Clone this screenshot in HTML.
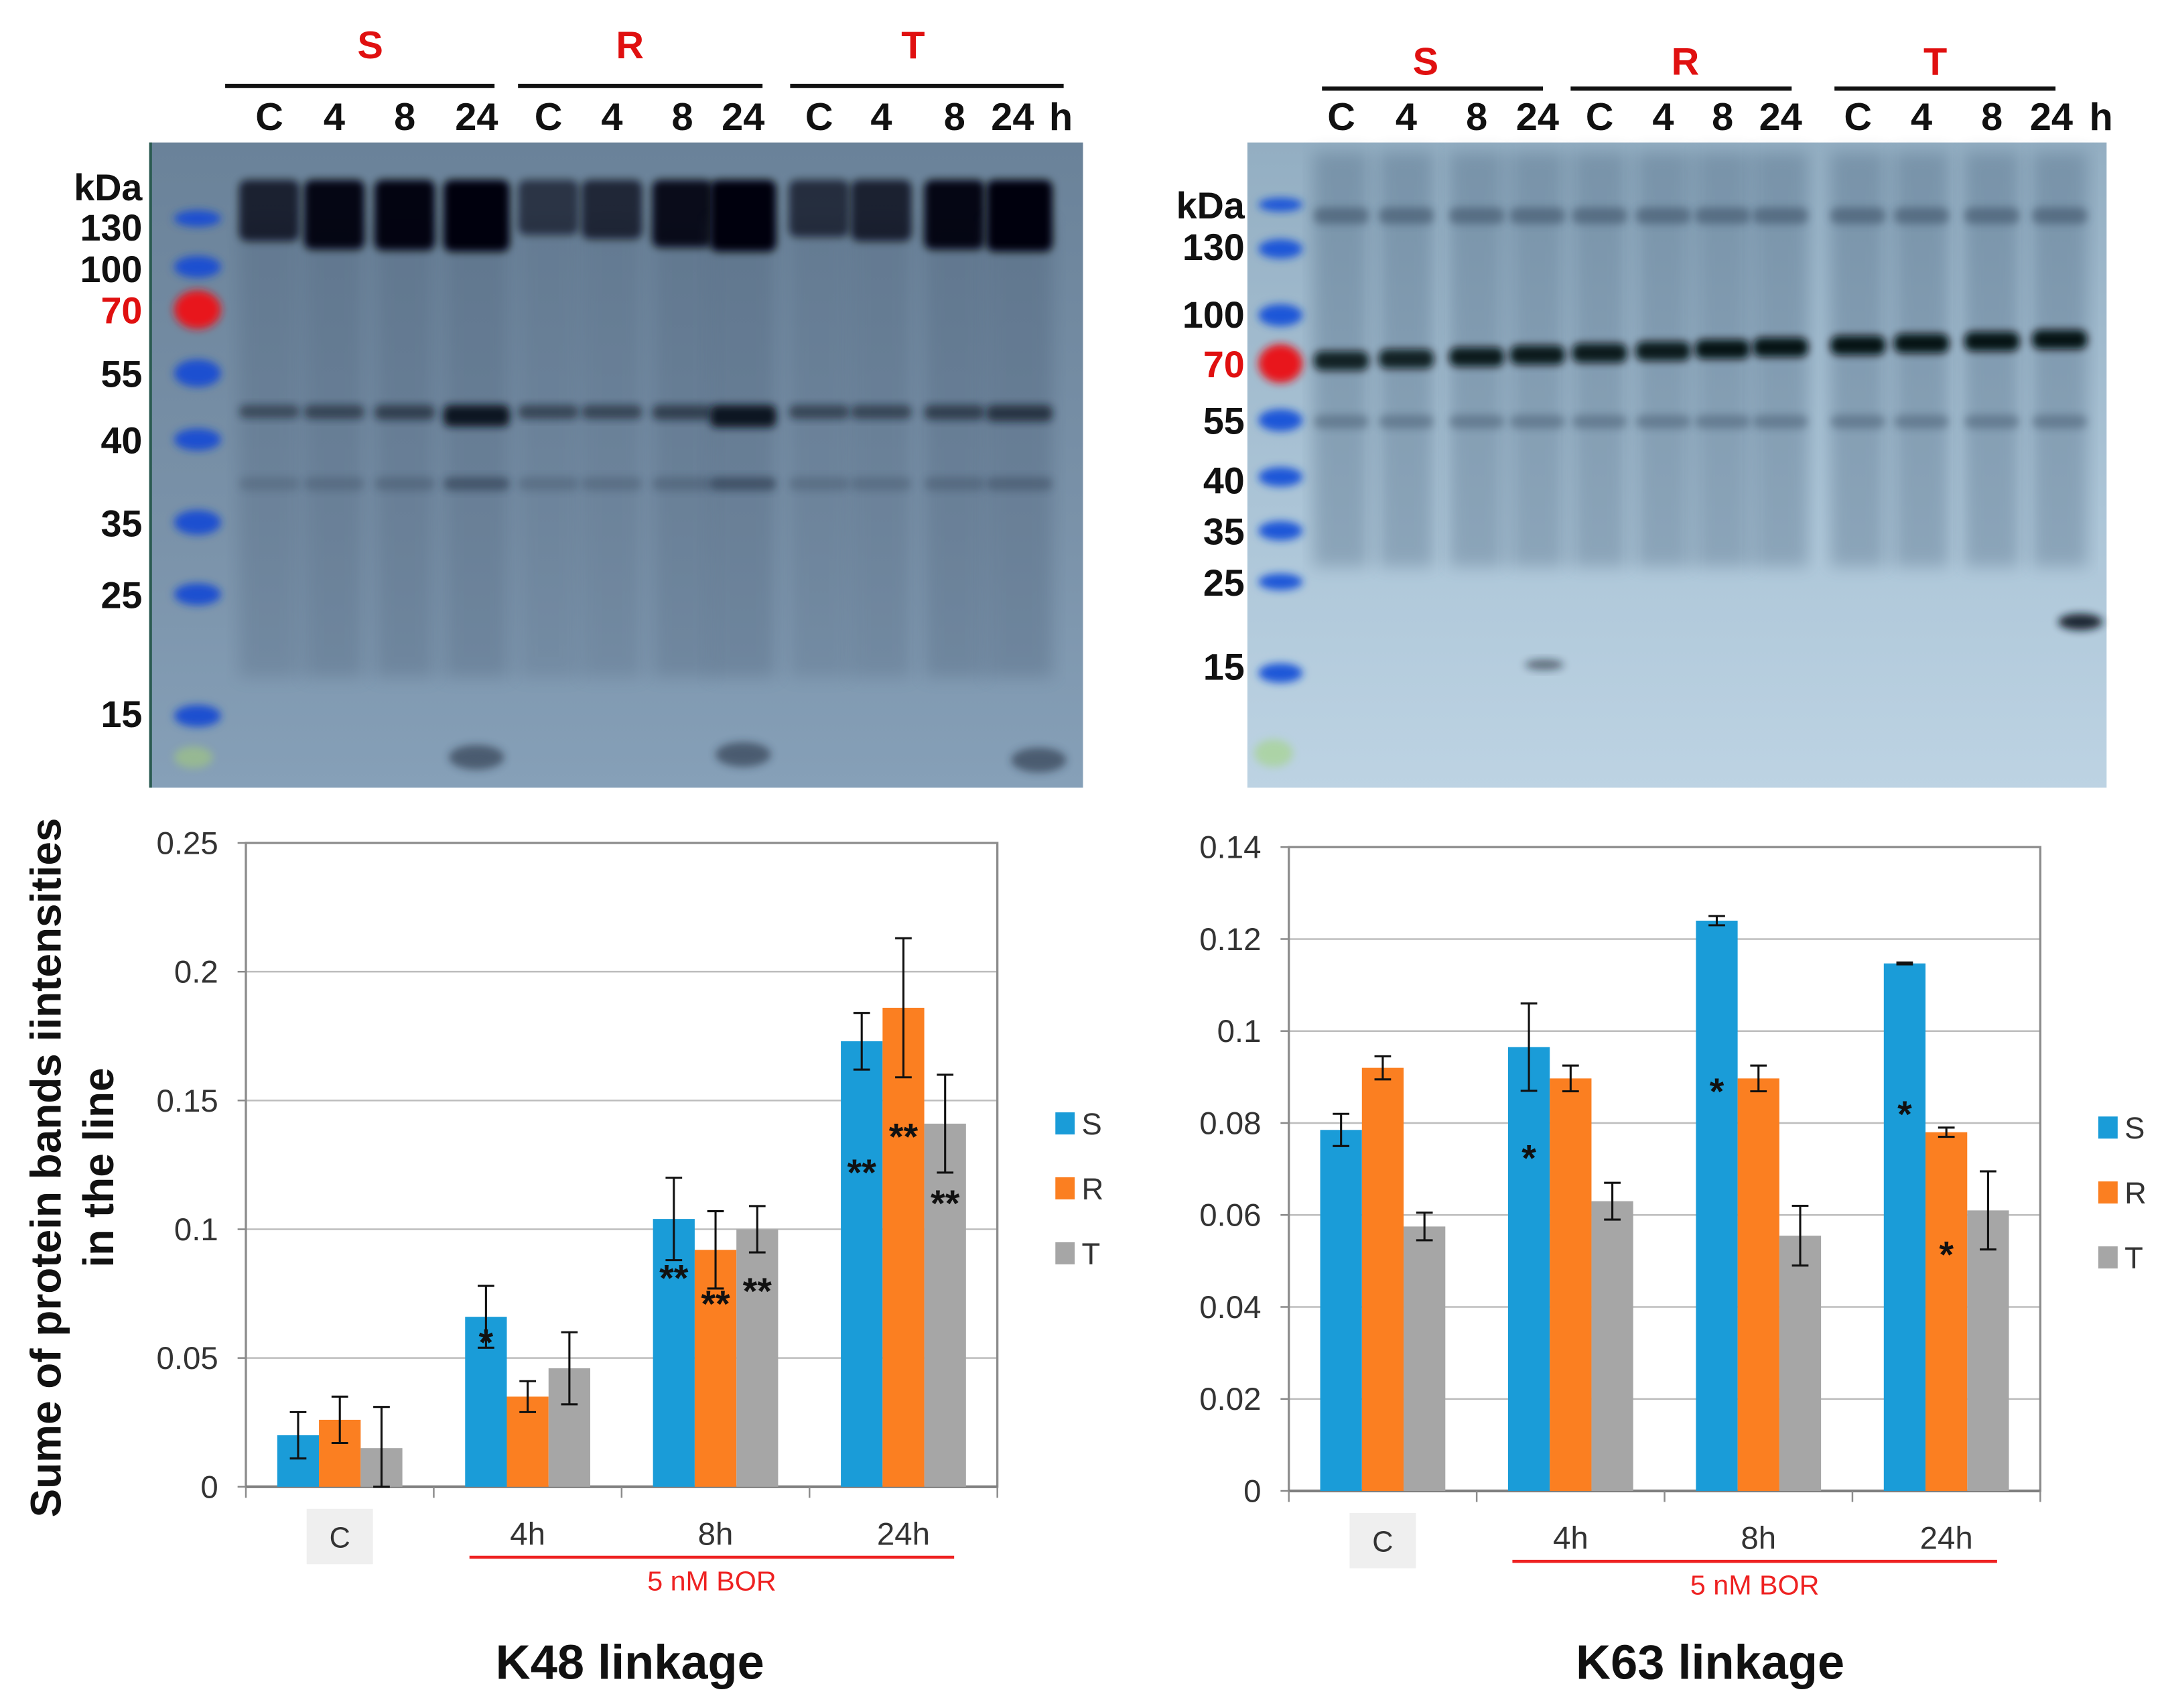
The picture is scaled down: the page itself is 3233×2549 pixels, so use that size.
<!DOCTYPE html>
<html><head><meta charset="utf-8"><style>
html,body{margin:0;padding:0;background:#fff;}
svg{display:block;font-family:"Liberation Sans",Arial,sans-serif;}
</style></head><body>
<svg id="fig" width="3233" height="2549" viewBox="0 0 1568 1236" xmlns="http://www.w3.org/2000/svg">
<defs>
<filter id="blur3" x="-20%" y="-50%" width="140%" height="200%"><feGaussianBlur stdDeviation="3"/></filter>
<filter id="blur6" x="-20%" y="-50%" width="140%" height="200%"><feGaussianBlur stdDeviation="6"/></filter>
<linearGradient id="lgL" x1="0" y1="0" x2="0" y2="1"><stop offset="0" stop-color="#6a8299"/><stop offset="0.6" stop-color="#7a92a9"/><stop offset="1" stop-color="#86a0b8"/></linearGradient>
<linearGradient id="lgR" x1="0" y1="0" x2="0" y2="1"><stop offset="0" stop-color="#93aec2"/><stop offset="0.6" stop-color="#adc6d8"/><stop offset="1" stop-color="#bdd3e3"/></linearGradient>
</defs>
<g id="blots"></g>
<g id="charts"></g>
</svg>
<script>
// ---------- data ----------
const categories = ["C","4h","8h","24h"];
const seriesNames = ["S","R","T"];
const k48Ticks = [0,0.05,0.1,0.15,0.2,0.25];
const k48TickLabels = ["0","0.05","0.1","0.15","0.2","0.25"];
const k48S = [0.020,0.066,0.104,0.173];
const k48R = [0.026,0.035,0.092,0.186];
const k48T = [0.015,0.046,0.100,0.141];
const k48SErr = [0.009,0.012,0.016,0.011];
const k48RErr = [0.009,0.006,0.015,0.027];
const k48TErr = [0.016,0.014,0.009,0.019];
const k48SStars = ["","*","**","**"];
const k48RStars = ["","","**","**"];
const k48TStars = ["","","**","**"];
const k48SStarVal = [0,0.058,0.083,0.124];
const k48RStarVal = [0,0,0.073,0.138];
const k48TStarVal = [0,0,0.078,0.112];
const k63Ticks = [0,0.02,0.04,0.06,0.08,0.1,0.12,0.14];
const k63TickLabels = ["0","0.02","0.04","0.06","0.08","0.1","0.12","0.14"];
const k63S = [0.0785,0.0965,0.124,0.1147];
const k63R = [0.092,0.0897,0.0897,0.078];
const k63T = [0.0575,0.063,0.0555,0.061];
const k63SErr = [0.0035,0.0095,0.001,0.0002];
const k63RErr = [0.0025,0.0028,0.0028,0.001];
const k63TErr = [0.003,0.004,0.0065,0.0085];
const k63SStars = ["","*","*","*"];
const k63RStars = ["","","","*"];
const k63TStars = ["","","",""];
const k63SStarVal = [0,0.0735,0.088,0.083];
const k63RStarVal = [0,0,0,0.0525];
const k63TStarVal = [0,0,0,0];

const NS="http://www.w3.org/2000/svg";
const colors=["#1a9cd8","#fb7f21","#a6a6a6"];
function mk(parent,tag,attrs,text){const e=document.createElementNS(NS,tag);for(const k in attrs)e.setAttribute(k,attrs[k]);if(text!==undefined)e.textContent=text;parent.appendChild(e);return e;}

function chart(cfg){
  const g=mk(document.getElementById('charts'),'g',{});
  
  
  const x0=cfg.x0,x1=cfg.x1,y0=cfg.yTop,y1=cfg.yBot,max=cfg.max;
  const yS=v=>y1-(v/max)*(y1-y0);
  const gw=(x1-x0)/categories.length;
  const xc=i=>x0+gw*(i+0.5);
  cfg.ticks.forEach((t,i)=>{
    const gl=mk(g,'line',{x1:x0,x2:x1,y1:yS(t),y2:yS(t),stroke:'#bdbdbd','stroke-width':1.2});
    
    
    const tl=mk(g,'text',{x:x0-20,y:yS(t)+8,'text-anchor':'end','font-size':23,fill:'#333'},cfg.tickLabels[i]);
    
    
    const tk=mk(g,'line',{x1:x0-6,x2:x0,y1:yS(t),y2:yS(t),stroke:'#888','stroke-width':1.2});
    
    
  });
  const frame=mk(g,'rect',{x:x0,y:y0,width:x1-x0,height:y1-y0,fill:'none',stroke:'#8c8c8c','stroke-width':1.6});
  
  
  const ax=mk(g,'line',{x1:x0,x2:x1,y1:y1,y2:y1,stroke:'#7f7f7f','stroke-width':2});
  
  
  for(let i=0;i<=categories.length;i++){
    const t=mk(g,'line',{x1:x0+gw*i,x2:x0+gw*i,y1:y1,y2:y1+8,stroke:'#8c8c8c','stroke-width':1.2});
    
    
  }
  const bw=gw*0.222;
  const vals=[cfg.S,cfg.R,cfg.T],errs=[cfg.SE,cfg.RE,cfg.TE],stars=[cfg.SSt,cfg.RSt,cfg.TSt],starV=[cfg.SSv,cfg.RSv,cfg.TSv];
  categories.forEach((c,i)=>{
    for(let s=0;s<3;s++){
      const bx=xc(i)+(s-1.5)*bw;
      const v=vals[s][i];
      const b=mk(g,'rect',{x:bx,y:yS(v),width:bw,height:y1-yS(v),fill:colors[s]});
      
      
      const e=errs[s][i],cx=bx+bw/2;
      const lo=Math.max(0,v-e),hi=v+e;
      const eb=mk(g,'path',{d:`M${cx},${yS(hi)}V${yS(lo)}M${cx-6},${yS(hi)}H${cx+6}M${cx-6},${yS(lo)}H${cx+6}`,stroke:'#111','stroke-width':1.5,fill:'none'});
      
      
      if(stars[s][i]){
        const st=mk(g,'text',{x:cx,y:yS(starV[s][i])+13,'text-anchor':'middle','font-size':27,'font-weight':'bold',fill:'#111'},stars[s][i]);
        
        
      }
    }
    if(i===0){
      const bx=mk(g,'rect',{x:xc(i)-24,y:y1+16,width:48,height:40,fill:'#efefef'});
      
      
    }
    const cl=mk(g,'text',{x:xc(i),y:y1+(i===0?44:42),'text-anchor':'middle','font-size':i===0?21:23,fill:'#333'},c);
    
    
  });
  const rl=mk(g,'line',{x1:xc(1)-gw*0.31,x2:xc(3)+gw*0.27,y1:y1+51,y2:y1+51,stroke:'#ee2222','stroke-width':2.2});
  
  
  const rt=mk(g,'text',{x:(xc(1)+xc(3))/2-gw*0.02,y:y1+75,'text-anchor':'middle','font-size':20,fill:'#ee2222'},'5 nM BOR');
  
  
  seriesNames.forEach((n,s)=>{
    const ly=cfg.legY+s*47;
    const sq=mk(g,'rect',{x:cfg.legX,y:ly-8,width:14,height:16,fill:colors[s]});
    
    
    const lt=mk(g,'text',{x:cfg.legX+19,y:ly+8,'font-size':22,fill:'#333'},n);
    
    
  });
  const tt=mk(g,'text',{x:cfg.titleX,y:1215,'text-anchor':'middle','font-size':35,'font-weight':'bold',fill:'#111'},cfg.title);
  
  
}

chart({name:'k48-chart',x0:178,x1:722,yTop:610,yBot:1076,max:0.25,ticks:k48Ticks,tickLabels:k48TickLabels,
  S:k48S,R:k48R,T:k48T,SE:k48SErr,RE:k48RErr,TE:k48TErr,SSt:k48SStars,RSt:k48RStars,TSt:k48TStars,
  SSv:k48SStarVal,RSv:k48RStarVal,TSv:k48TStarVal,legX:764,legY:813,titleX:456,title:'K48 linkage'});
chart({name:'k63-chart',x0:933,x1:1477,yTop:613,yBot:1079,max:0.14,ticks:k63Ticks,tickLabels:k63TickLabels,
  S:k63S,R:k63R,T:k63T,SE:k63SErr,RE:k63RErr,TE:k63TErr,SSt:k63SStars,RSt:k63RStars,TSt:k63TStars,
  SSv:k63SStarVal,RSv:k63RStarVal,TSv:k63TStarVal,legX:1519,legY:816,titleX:1238,title:'K63 linkage'});

{
  const g=document.getElementById('charts');
  const t=mk(g,'text',{transform:'translate(44,845) rotate(-90)','text-anchor':'middle','font-size':31,'font-weight':'bold',fill:'#111'},'Sume of protein bands iintensities');
  
  
  const t2=mk(g,'text',{transform:'translate(82,845) rotate(-90)','text-anchor':'middle','font-size':31,'font-weight':'bold',fill:'#111'},'in the line');
  
  
}

// ---------- blots (image approximation) ----------
const lanesL=[195,242,293,345,397,443,494,538,593,638,691,738];
const lanesR=[971,1018,1069,1113,1158,1204,1247,1289,1345,1391,1442,1491];
const topBandL=[0.75,0.95,0.97,1,0.6,0.7,0.9,1,0.65,0.75,0.95,1];
const midBandL=[0.3,0.35,0.4,0.8,0.35,0.35,0.4,0.85,0.35,0.35,0.4,0.5];
const bandR=[0.85,0.85,0.9,0.9,0.9,0.9,0.95,0.95,0.95,0.95,0.95,0.95];
function blots(){
  const g=document.getElementById('blots');
  const bl=mk(g,'g',{});
  
  
  mk(bl,'rect',{x:108,y:103,width:676,height:467,fill:'url(#lgL)'});
  mk(bl,'rect',{x:108,y:103,width:2,height:467,fill:'#2a5a50'});
  lanesL.forEach((x,i)=>{
    const w=i%4===3?48:44;
    mk(bl,'rect',{x:x-w/2,y:160,width:w,height:330,fill:'#3c5068',opacity:0.2*topBandL[i]+0.06,filter:'url(#blur6)'});
    mk(bl,'rect',{x:x-w/2,y:130,width:w,height:22+30*topBandL[i],rx:6,fill:'#03060a',opacity:topBandL[i],filter:'url(#blur3)'});
    mk(bl,'rect',{x:x-w/2,y:293,width:w,height:6+12*midBandL[i],rx:5,fill:'#0a1420',opacity:midBandL[i]+0.2,filter:'url(#blur3)'});
    mk(bl,'rect',{x:x-w/2,y:345,width:w,height:10,rx:5,fill:'#1a2a3c',opacity:midBandL[i]*0.6,filter:'url(#blur3)'});
  });
  [[345,548],[538,546],[752,550]].forEach(p=>mk(bl,'ellipse',{cx:p[0],cy:p[1],rx:20,ry:9,fill:'#1a2838',opacity:0.55,filter:'url(#blur3)'}));
  [[143,158,6],[143,193,8],[143,224,14],[143,270,10],[143,318,8],[143,378,9],[143,430,8],[143,518,8]].forEach((p,i)=>{
    mk(bl,'ellipse',{cx:p[0],cy:p[1],rx:17,ry:p[2],fill:i===2?'#e8141a':'#1a4fd0',filter:'url(#blur3)'});
  });
  mk(bl,'ellipse',{cx:140,cy:548,rx:14,ry:8,fill:'#9bbf8a',opacity:0.8,filter:'url(#blur3)'});

  const br=mk(g,'g',{});
  
  
  mk(br,'rect',{x:903,y:103,width:622,height:467,fill:'url(#lgR)'});
  lanesR.forEach((x,i)=>{
    mk(br,'rect',{x:x-20,y:110,width:40,height:300,fill:'#3a5570',opacity:0.3,filter:'url(#blur6)'});
    mk(br,'rect',{x:x-20,y:254-(i*1.4),width:40,height:14,rx:6,fill:'#050a10',opacity:bandR[i],filter:'url(#blur3)'});
    mk(br,'rect',{x:x-20,y:150,width:40,height:12,rx:5,fill:'#2b3e52',opacity:0.45,filter:'url(#blur3)'});
    mk(br,'rect',{x:x-20,y:300,width:40,height:10,rx:5,fill:'#2b3e52',opacity:0.35,filter:'url(#blur3)'});
  });
  mk(br,'ellipse',{cx:1506,cy:450,rx:16,ry:6,fill:'#0b1520',opacity:0.9,filter:'url(#blur3)'});
  mk(br,'ellipse',{cx:1118,cy:481,rx:14,ry:4,fill:'#0b1520',opacity:0.5,filter:'url(#blur3)'});
  [[927,148,5],[927,180,7],[927,228,8],[927,263,14],[927,304,8],[927,345,7],[927,384,7],[927,421,6],[927,487,7]].forEach((p,i)=>{
    mk(br,'ellipse',{cx:p[0],cy:p[1],rx:16,ry:p[2],fill:i===3?'#e8141a':'#1a56d8',filter:'url(#blur3)'});
  });
  mk(br,'ellipse',{cx:922,cy:545,rx:14,ry:10,fill:'#a6d48e',opacity:0.7,filter:'url(#blur3)'});

  const hdr=(x,y,t,c)=>mk(g,'text',{x:x,y:y,'text-anchor':'middle','font-size':28,'font-weight':'bold',fill:c},t);
  [['S',268,32],['R',456,32],['T',661,32],['S',1032,44],['R',1220,44],['T',1401,44]].forEach(a=>{
    const e=hdr(a[1],a[2]+10,a[0],'#e01010');
    
    
  });
  [[163,358,62],[375,552,62],[572,770,62],[957,1117,64],[1137,1297,64],[1328,1488,64]].forEach(a=>{
    const e=mk(g,'line',{x1:a[0],x2:a[1],y1:a[2],y2:a[2],stroke:'#111','stroke-width':3});
    
    
  });
  const laneTxt=['C','4','8','24','C','4','8','24','C','4','8','24'];
  lanesL.forEach((x,i)=>{const e=hdr(i===11?733:x,94,laneTxt[i],'#111');});
  lanesR.forEach((x,i)=>{const e=hdr(i===11?1485:x,94,laneTxt[i],'#111');});
  [[768,94],[1521,94]].forEach(p=>{const e=hdr(p[0],p[1],'h','#111');});
  const mL=[['kDa',145],['130',174],['100',204],['70',234],['55',280],['40',328],['35',388],['25',440],['15',526]];
  const mR=[['kDa',158],['130',188],['100',237],['70',273],['55',314],['40',357],['35',394],['25',431],['15',492]];
  mL.forEach(m=>{const e=mk(g,'text',{x:103,y:m[1],'text-anchor':'end','font-size':27,'font-weight':'bold',fill:m[0]==='70'?'#e01010':'#111'},m[0]);});
  mR.forEach(m=>{const e=mk(g,'text',{x:901,y:m[1],'text-anchor':'end','font-size':27,'font-weight':'bold',fill:m[0]==='70'?'#e01010':'#111'},m[0]);});
}
blots();
</script>
</body></html>
